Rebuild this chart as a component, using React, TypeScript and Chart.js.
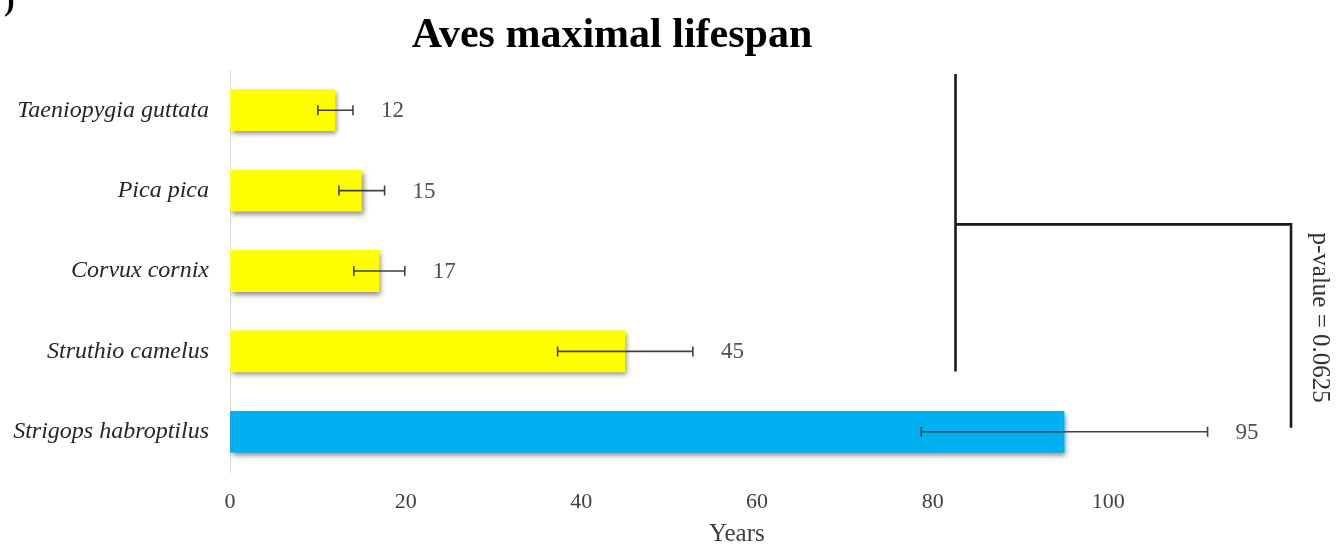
import { useEffect, useRef } from 'react';
import { Chart, registerables } from 'chart.js';

Chart.register(...registerables);

// Maximal lifespan (years) of bird species, with spread
const species = [
  'Taeniopygia guttata',
  'Pica pica',
  'Corvux cornix',
  'Struthio camelus',
  'Strigops habroptilus',
];
const lifespan = [12, 15, 17, 45, 95];
const spread = [2, 2.6, 2.9, 7.7, 16.3];
const barColors = ['#FFFF00', '#FFFF00', '#FFFF00', '#FFFF00', '#00B0F0'];
const xTickValues = [0, 20, 40, 60, 80, 100];
const titleText = 'Aves maximal lifespan';
const axisTitle = 'Years';
const pValueText = 'p-value = 0.0625';

const SERIF = '"Liberation Serif", "Times New Roman", serif';

const overlayPlugin = {
  id: 'overlay',
  beforeDatasetsDraw(chart: any) {
    const ctx = chart.ctx;
    ctx.save();
    ctx.shadowColor = 'rgba(0,0,0,0.45)';
    ctx.shadowBlur = 5;
    ctx.shadowOffsetX = 2;
    ctx.shadowOffsetY = 3;
  },
  afterDatasetsDraw(chart: any) {
    const ctx = chart.ctx;
    ctx.restore();
    const xs = chart.scales.x;
    const ys = chart.scales.y;

    // error bars
    ctx.save();
    ctx.strokeStyle = '#404040';
    ctx.lineWidth = 1.6;
    lifespan.forEach((v, i) => {
      const y = ys.getPixelForValue(i);
      const lo = xs.getPixelForValue(v - spread[i]);
      const hi = xs.getPixelForValue(v + spread[i]);
      ctx.beginPath();
      ctx.moveTo(lo, y);
      ctx.lineTo(hi, y);
      ctx.moveTo(lo, y - 5);
      ctx.lineTo(lo, y + 5);
      ctx.moveTo(hi, y - 5);
      ctx.lineTo(hi, y + 5);
      ctx.stroke();
    });
    ctx.restore();

    // value labels
    ctx.save();
    ctx.fillStyle = '#505050';
    ctx.font = `23px ${SERIF}`;
    ctx.textAlign = 'left';
    ctx.textBaseline = 'middle';
    lifespan.forEach((v, i) => {
      const y = ys.getPixelForValue(i);
      const x = xs.getPixelForValue(v + spread[i]) + 28;
      ctx.fillText(String(v), x, y + 1);
    });
    ctx.restore();

    // comparison bracket between the two groups
    ctx.save();
    ctx.strokeStyle = '#1a1a1a';
    ctx.lineWidth = 2.6;
    const lx = xs.getPixelForValue(82.6);
    const rx = xs.getPixelForValue(120.8);
    const top = ys.getPixelForValue(-0.45);
    const mid = ys.getPixelForValue(1.42);
    const lBottom = ys.getPixelForValue(3.25);
    const rBottom = ys.getPixelForValue(3.95);
    ctx.beginPath();
    ctx.moveTo(lx, top);
    ctx.lineTo(lx, lBottom);
    ctx.moveTo(lx, mid);
    ctx.lineTo(rx, mid);
    ctx.lineTo(rx, rBottom);
    ctx.stroke();
    ctx.restore();

    // p-value, rotated
    ctx.save();
    ctx.fillStyle = '#333333';
    ctx.font = `25px ${SERIF}`;
    ctx.textAlign = 'center';
    ctx.textBaseline = 'middle';
    ctx.translate(xs.getPixelForValue(124.1), ys.getPixelForValue(2.58));
    ctx.rotate(Math.PI / 2);
    ctx.fillText(pValueText, 0, 0);
    ctx.restore();
  },
  afterDraw(chart: any) {
    const ctx = chart.ctx;
    const xs = chart.scales.x;
    ctx.save();
    ctx.fillStyle = '#000000';
    ctx.font = `bold 42px ${SERIF}`;
    ctx.textAlign = 'center';
    ctx.textBaseline = 'alphabetic';
    ctx.fillText(titleText, 612, 47);

    // axis title
    ctx.fillStyle = '#404040';
    ctx.font = `25px ${SERIF}`;
    ctx.textBaseline = 'middle';
    ctx.fillText(axisTitle, xs.getPixelForValue(57.7), 534);

    // panel letter cut at the edge
    ctx.fillStyle = '#000000';
    ctx.font = `bold 32px ${SERIF}`;
    ctx.textAlign = 'left';
    ctx.textBaseline = 'alphabetic';
    ctx.fillText(')', 4, 10);
    ctx.restore();
  },
};

export default function App() {
  const canvasRef = useRef<HTMLCanvasElement | null>(null);

  useEffect(() => {
    const canvas = canvasRef.current;
    if (!canvas) return;
    const chart = new Chart(canvas, {
      type: 'bar',
      data: {
        labels: species,
        datasets: [
          {
            data: lifespan,
            backgroundColor: barColors,
            borderWidth: 0,
            barPercentage: 0.52,
            categoryPercentage: 1,
          },
        ],
      },
      options: {
        indexAxis: 'y',
        responsive: false,
        animation: false,
        layout: { padding: { top: 70, right: 59, left: 0, bottom: 0 } },
        plugins: {
          legend: { display: false },
          tooltip: { enabled: false },
          title: { display: false },
        },
        scales: {
          x: {
            min: 0,
            max: 120,
            afterBuildTicks(scale: any) {
              scale.ticks = xTickValues.map((v) => ({ value: v }));
            },
            afterFit(scale: any) {
              scale.height = 73;
            },
            grid: { display: false },
            border: { display: false },
            ticks: {
              color: '#404040',
              font: { family: SERIF, size: 22 },
              padding: 9,
            },
          },
          y: {
            afterFit(scale: any) {
              scale.width = 230;
            },
            grid: { display: false },
            border: { display: true, color: '#d9d9d9', width: 1 },
            ticks: {
              color: '#262626',
              font: { family: SERIF, size: 24, style: 'italic' },
              padding: 13,
            },
          },
        },
      },
      plugins: [overlayPlugin],
    });
    return () => chart.destroy();
  }, []);

  return (
    <div style={{ position: 'fixed', left: 0, top: 0, width: 1343, height: 545, background: '#ffffff' }}>
      <canvas ref={canvasRef} width={1343} height={545} />
    </div>
  );
}
